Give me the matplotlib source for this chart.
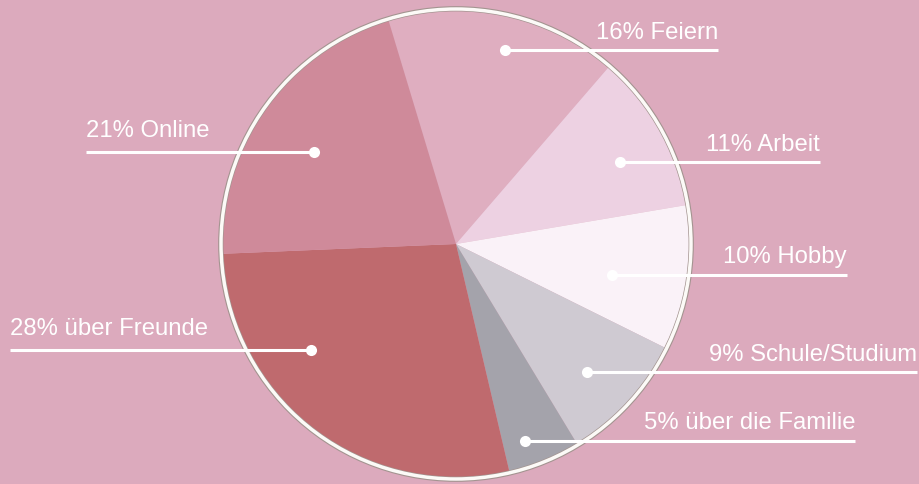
import matplotlib
matplotlib.use("Agg")
import matplotlib.pyplot as plt
from matplotlib.patches import Circle

# ---- data ----
categories = ["Feiern", "Arbeit", "Hobby", "Schule/Studium", "über die Familie", "über Freunde", "Online"]
values = [16, 11, 10, 9, 5, 28, 21]
colors = ["#dfaec0", "#edd1e2", "#faf2f8", "#cfcad2", "#a4a3ab", "#bf6a6e", "#cf8a9a"]
labels = [f"{v}% {c}" for v, c in zip(values, categories)]

# ---- layout (pixel coordinates, y from top) ----
W, H = 919, 484
BG = "#dcaabd"
cx, cy, R = 456, 244, 234
# (dot_x, line_y, line_far_end_x, side, text gap above line)
anchors = [
    (505, 50, 718, "right", 11),
    (620, 162, 820, "right", 11),
    (612, 275, 847, "right", 12.5),
    (587, 372, 917, "right", 11),
    (525, 441, 855, "right", 12),
    (311, 350, 10, "left", 15),
    (314, 152, 86, "left", 15),
]

fig = plt.figure(figsize=(W / 100, H / 100), dpi=100)
fig.patch.set_facecolor(BG)
ax = fig.add_axes([0, 0, 1, 1])
ax.set_facecolor(BG)

ax.pie(values, colors=colors, startangle=106.8, counterclock=False,
       center=(cx, H - cy), radius=R, frame=True,
       wedgeprops=dict(linewidth=0))
ax.set_xlim(0, W)
ax.set_ylim(0, H)
ax.set_aspect("equal")
ax.axis("off")

# border ring with faint shadow
ax.add_patch(Circle((cx, H - cy), R + 1.2, fill=False, edgecolor="#a39490", linewidth=3.8, zorder=5))
ax.add_patch(Circle((cx, H - cy), R + 1.0, fill=False, edgecolor="#fcfaf7", linewidth=2.5, zorder=6))

font = ["Liberation Sans", "DejaVu Sans"]
for lab, (dx, ly, ex, side, gap) in zip(labels, anchors):
    y = H - ly
    ax.plot([dx, ex], [y, y], color="white", linewidth=2.2, solid_capstyle="butt", zorder=8)
    ax.plot([dx], [y], marker="o", markersize=8, color="white", markeredgewidth=0, zorder=9)
    ha = "right" if side == "right" else "left"
    ax.text(ex, y + gap, lab, ha=ha, va="baseline", color="white", fontsize=17.2,
            family=font, zorder=9)

fig.savefig("out.png", dpi=100, facecolor=BG)
